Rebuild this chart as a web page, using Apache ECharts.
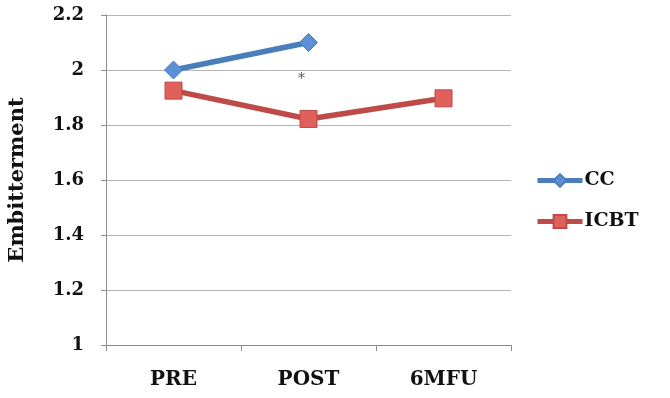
<!DOCTYPE html>
<html><head><meta charset="utf-8">
<script src="https://cdn.jsdelivr.net/npm/echarts@6/dist/echarts.min.js"></script>
<style>html,body{margin:0;padding:0;background:#fff}#c{width:670px;height:398px}</style>
</head><body><div id="c"></div>
<script>
const categories = ['PRE', 'POST', '6MFU'];
const ccValues = [2.0, 2.1, null];
const icbtValues = [1.925, 1.822, 1.897];
const yTicks = [1, 1.2, 1.4, 1.6, 1.8, 2, 2.2];
const annotation = [['POST', 1.973, '*']];

const font = 'DejaVu Serif';
const chart = echarts.init(document.getElementById('c'));
chart.setOption({
  animation: false,
  grid: {left: 106, right: 159, top: 15, bottom: 53, containLabel: false, outerBoundsMode: 'none'},
  legend: {
    orient: 'vertical', left: 535, top: 171, padding: 0, itemWidth: 45, itemHeight: 16, itemGap: 22,
    itemStyle: {}, lineStyle: {width: 5},
    textStyle: {fontFamily: font, fontWeight: 'bold', fontSize: 19, color: '#111', padding: [0, 0, 0, -3]},
    data: ['CC', 'ICBT']
  },
  xAxis: {
    type: 'category', data: categories, boundaryGap: true,
    axisLine: {lineStyle: {color: '#8c8c8c', width: 1}},
    axisTick: {show: true, length: 6, lineStyle: {color: '#8c8c8c'}},
    axisLabel: {fontFamily: font, fontWeight: 'bold', fontSize: 20, color: '#111', margin: 25}
  },
  yAxis: {
    type: 'value', min: yTicks[0], max: yTicks[yTicks.length - 1], interval: 0.2,
    name: 'Embitterment', nameLocation: 'middle', nameGap: 78, nameRotate: 90,
    nameTextStyle: {fontFamily: font, fontWeight: 'bold', fontSize: 21, color: '#111'},
    axisLine: {show: true, lineStyle: {color: '#8c8c8c', width: 1}},
    axisTick: {show: true, length: 5, lineStyle: {color: '#8c8c8c'}},
    splitLine: {lineStyle: {color: '#b5b5b5', width: 1}},
    axisLabel: {fontFamily: font, fontWeight: 'bold', fontSize: 18, color: '#111', margin: 22,
      formatter: v => String(Math.round(v * 10) / 10)}
  },
  series: [
    {name: 'CC', type: 'line', data: ccValues, connectNulls: false,
     symbol: 'diamond', symbolSize: 18,
     lineStyle: {color: '#4a7ebb', width: 5.5},
     itemStyle: {color: '#5b8fd6', borderColor: '#4a7ebb', borderWidth: 1}},
    {name: 'ICBT', type: 'line', data: icbtValues,
     symbol: 'rect', symbolSize: 17,
     lineStyle: {color: '#be4b48', width: 5.5},
     itemStyle: {color: '#e0605c', borderColor: '#be4b48', borderWidth: 1}},
    {name: 'note', type: 'scatter', data: annotation.map(a => [a[0], a[1]]),
     symbolSize: 0, silent: true,
     label: {show: true, position: 'inside', offset: [-7, 2], formatter: p => annotation[p.dataIndex][2],
       fontFamily: font, fontSize: 14, color: '#333'}}
  ]
});
</script></body></html>
